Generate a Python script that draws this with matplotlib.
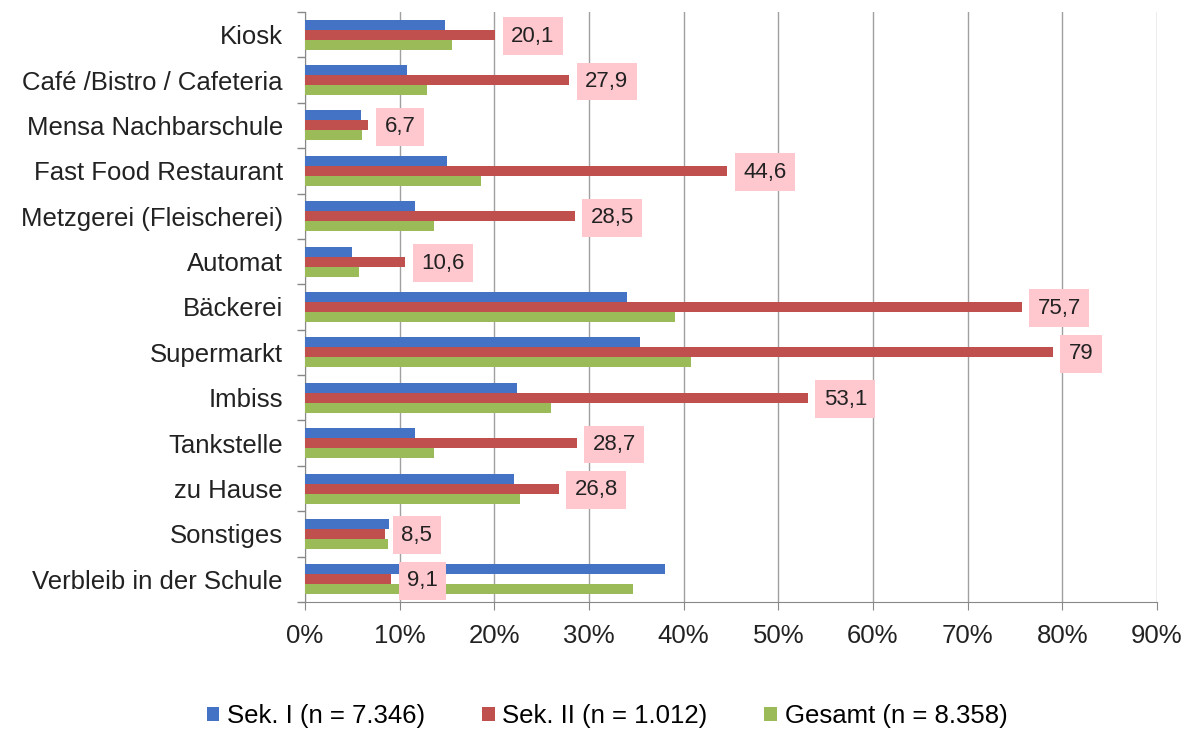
import matplotlib
matplotlib.use("Agg")
import matplotlib.pyplot as plt
import numpy as np

categories = ["Kiosk", "Café /Bistro / Cafeteria", "Mensa Nachbarschule",
              "Fast Food Restaurant", "Metzgerei (Fleischerei)", "Automat",
              "Bäckerei", "Supermarkt", "Imbiss", "Tankstelle", "zu Hause",
              "Sonstiges", "Verbleib in der Schule"]
sek1 = [14.8, 10.8, 5.9, 15.0, 11.6, 5.0, 34.0, 35.4, 22.4, 11.6, 22.1, 8.9, 38.0]
sek2 = [20.1, 27.9, 6.7, 44.6, 28.5, 10.6, 75.7, 79.0, 53.1, 28.7, 26.8, 8.5, 9.1]
gesamt = [15.5, 12.9, 6.0, 18.6, 13.6, 5.7, 39.1, 40.8, 26.0, 13.6, 22.7, 8.8, 34.6]
sek2_labels = ["20,1", "27,9", "6,7", "44,6", "28,5", "10,6", "75,7", "79",
               "53,1", "28,7", "26,8", "8,5", "9,1"]
series_names = ["Sek. I (n = 7.346)", "Sek. II (n = 1.012)", "Gesamt (n = 8.358)"]
colors = ["#4472C4", "#C0504D", "#9BBB59"]

plt.rcParams['font.family'] = ['Liberation Sans', 'DejaVu Sans']

fig = plt.figure(figsize=(11.97, 7.31), dpi=100)
ax = fig.add_axes([305/1197, 1-602/731, (1157-305)/1197, (602-12)/731])

n = len(categories)
y = np.arange(n)
h = 0.22
for i, (vals, c, name) in enumerate(zip([sek1, sek2, gesamt], colors, series_names)):
    ax.barh(y + (i - 1) * h, vals, height=h, color=c, label=name, zorder=3)

for yi, v, lab in zip(y, sek2, sek2_labels):
    ax.annotate(lab, xy=(v, yi), xytext=(11.5, -1), textcoords="offset points",
                va="center", ha="left", fontsize=16, color="#222222", zorder=5,
                bbox=dict(boxstyle="square,pad=0.38", fc="#FFC7CE", ec="none"))

ax.set_xlim(0, 90)
ax.set_ylim(n - 0.5, -0.5)
ax.set_xticks(np.arange(0, 91, 10))
ax.set_xticklabels([f"{t}%" for t in range(0, 91, 10)], fontsize=18.5, color="#222222")
ax.set_yticks(y)
ax.set_yticklabels(categories, fontsize=18.5, color="#222222")
ax.set_yticks(np.arange(-0.5, n, 1), minor=True)
ax.tick_params(axis="y", which="major", length=0, pad=16)
ax.tick_params(axis="y", which="minor", length=6, color="#888888", width=1)
ax.tick_params(axis="x", which="major", length=6, color="#888888", pad=10)
ax.grid(axis="x", color="#A0A0A0", linewidth=1, zorder=0)
for s in ["top", "right"]:
    ax.spines[s].set_visible(False)
for s in ["left", "bottom"]:
    ax.spines[s].set_color("#888888")

fig.legend(loc="center", bbox_to_anchor=(607/1197, 1-716/731), ncol=3,
           frameon=False, fontsize=18.5, handlelength=0.5, handleheight=0.5,
           handletextpad=0.3, columnspacing=2.2)

fig.savefig("out.png", dpi=100)
